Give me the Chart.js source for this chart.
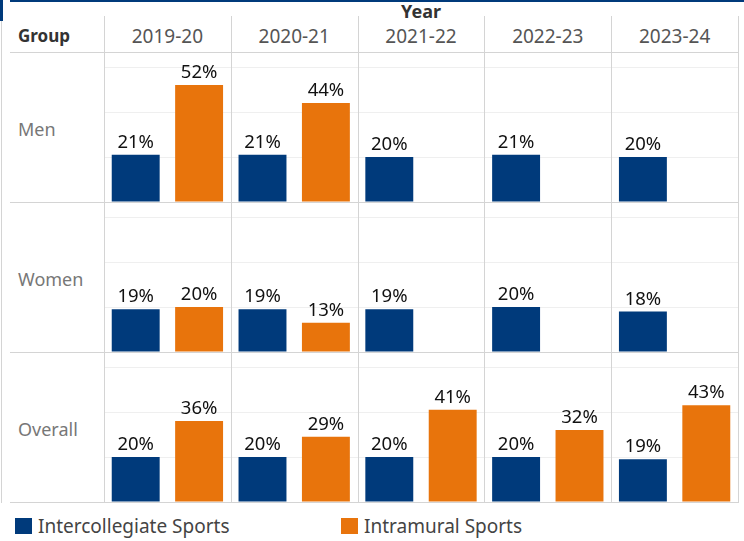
<!DOCTYPE html>
<html>
<head>
<meta charset="utf-8">
<script src="https://cdn.jsdelivr.net/npm/chart.js@4.4.0/dist/chart.umd.min.js"></script>
<style>
  body { margin: 0; width: 744px; height: 541px; background: #fff; position: relative; overflow: hidden;
         font-family: "Noto Sans", sans-serif; }
  .hline { position: absolute; height: 1px; background: #d4d4d4; z-index: 2; }
  .vline { position: absolute; width: 1px; background: #d4d4d4; z-index: 2; }
  .txt { position: absolute; white-space: nowrap; line-height: 22px; }
  .cell { position: absolute; }
</style>
</head>
<body>
<script>
const years = ["2019-20", "2020-21", "2021-22", "2022-23", "2023-24"];
const groups = ["Men", "Women", "Overall"];
const seriesNames = ["Intercollegiate Sports", "Intramural Sports"];
const colors = ["#003a7b", "#e8740c"];

// percentages per group, one value per year
const intercollegiate = {
    "Men":     [21, 21, 20, 21, 20],
    "Women":   [19, 19, 19, 20, 18],
    "Overall": [20, 20, 20, 20, 19]
};
const intramural = {
    "Men":     [52, 44, null, null, null],
    "Women":   [20, 13, null, null, null],
    "Overall": [36, 29, 41, 32, 43]
};

const plotLeft = 104, colW = 126.8, headTop = 52, rowH = 150;
const plotRight = plotLeft + colW * years.length;

function add(cls, style, text) {
    const d = document.createElement("div");
    d.className = cls;
    Object.assign(d.style, style);
    if (text) d.textContent = text;
    document.body.appendChild(d);
    return d;
}

// frame
add("", { position: "absolute", left: "10px", top: "0px", width: "734px", height: "2px", background: "#003a7b" });
add("", { position: "absolute", left: "0px", top: "0px", width: "3px", height: "21px", background: "#003a7b" });
add("vline", { left: "1px", top: "21px", height: (headTop + rowH * 3 - 20) + "px" });
add("hline", { left: "10px", top: headTop + "px", width: (plotRight - 10) + "px" });
groups.forEach((g, i) => {
    add("hline", { left: "10px", top: (headTop + rowH * (i + 1)) + "px", width: (plotRight - 10) + "px" });
});
for (let i = 0; i <= years.length; i++) {
    add("vline", { left: Math.round(plotLeft + colW * i) + "px", top: "16px", height: (headTop + rowH * 3 - 15) + "px" });
}

// headers
add("txt", { left: plotLeft + "px", width: (plotRight - plotLeft) + "px", top: "0px", textAlign: "center",
             fontWeight: "bold", fontSize: "18px", color: "#333" }, "Year");
add("txt", { left: "18px", top: "25px", fontWeight: "bold", fontSize: "17px", color: "#333" }, "Group");
years.forEach((y, i) => {
    add("txt", { left: (plotLeft + colW * i) + "px", width: colW + "px", top: "25px", textAlign: "center",
                 fontSize: "19px", color: "#555" }, y);
});

// legend
seriesNames.forEach((s, i) => {
    const x = i === 0 ? 15 : 341;
    add("", { position: "absolute", left: x + "px", top: "518px", width: "17px", height: "16px", background: colors[i] });
    add("txt", { left: (x + 23) + "px", top: "515px", fontSize: "19px", color: "#444" }, s);
});

const pctLabels = {
    id: "pctLabels",
    afterDatasetsDraw(chart) {
        const ctx = chart.ctx;
        ctx.save();
        ctx.font = '18.5px "Noto Sans", sans-serif';
        ctx.fillStyle = "#111";
        ctx.textAlign = "center";
        ctx.textBaseline = "alphabetic";
        chart.data.datasets.forEach((ds, di) => {
            chart.getDatasetMeta(di).data.forEach((bar, j) => {
                const v = ds.data[j];
                if (v == null) return;
                ctx.fillText(v + "%", bar.x, bar.y - 7);
            });
        });
        ctx.restore();
    }
};

groups.forEach((g, i) => {
    const top = headTop + rowH * i;
    add("txt", { left: "18px", top: (top + rowH / 2 - 9) + "px", fontSize: "18px", color: "#777" }, g);
    const box = add("cell", { left: plotLeft + "px", top: top + "px", width: (plotRight - plotLeft) + "px", height: rowH + "px" });
    const cv = document.createElement("canvas");
    box.appendChild(cv);
    new Chart(cv.getContext("2d"), {
        type: "bar",
        data: {
            labels: years,
            datasets: [
                { label: seriesNames[0], data: intercollegiate[g], backgroundColor: colors[0] },
                { label: seriesNames[1], data: intramural[g], backgroundColor: colors[1] }
            ]
        },
        options: {
            responsive: true, maintainAspectRatio: false, animation: false,
            layout: { padding: 0 },
            categoryPercentage: 1, barPercentage: 0.756,
            plugins: { legend: { display: false }, tooltip: { enabled: false } },
            scales: {
                x: { display: false },
                y: {
                    min: 0, max: 66.7,
                    ticks: { display: false, stepSize: 20 },
                    grid: { color: "#efefef", drawTicks: false },
                    border: { display: false }
                }
            }
        },
        plugins: [pctLabels]
    });
});
</script>
</body>
</html>
